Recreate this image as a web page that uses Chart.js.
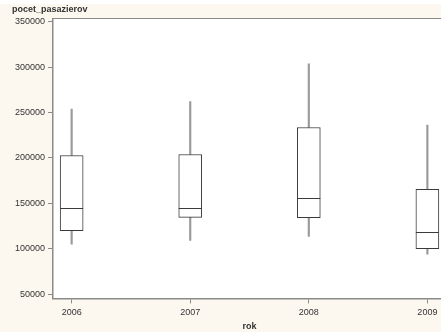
<!DOCTYPE html>
<html>
<head>
<meta charset="utf-8">
<script src="https://cdn.jsdelivr.net/npm/chart.js@4/dist/chart.umd.min.js"></script>
<style>
  html, body { margin: 0; padding: 0; overflow: hidden; background: #fff; }
  #wrap { width: 450px; height: 332px; }
</style>
</head>
<body>
<div id="wrap"><canvas id="myChart" width="450" height="332"></canvas></div>
<script>
// box plot values per year
const years = [2006, 2007, 2008, 2009];
const mins = [105300, 109300, 113700, 94200];
const q1s = [120100, 134600, 134200, 100100];
const medians = [144900, 145000, 156500, 118600];
const q3s = [202700, 203800, 233500, 165400];
const maxs = [253900, 262100, 303600, 236100];
const yTicks = [50000, 100000, 150000, 200000, 250000, 300000, 350000];

const axisGrey = "#8a8a8a";
const textCol = "#333";
const boxLine = "#3a3a3a";
const font = { family: "'Liberation Sans', Arial, sans-serif", size: 9 };
const boldFont = { family: "'Liberation Sans', Arial, sans-serif", size: 9, weight: "bold" };
const boxWidth = 23;

const pairs = (a, b) => years.map((x, i) => ({ x: x, y: [a[i], b[i]] }));

// background: cream around, white plot, top border line, median lines
const framePlugin = {
  id: "frame",
  beforeDraw(chart) {
    const { ctx, chartArea: a, width, height } = chart;
    ctx.save();
    ctx.fillStyle = "#fdf8ef";
    ctx.fillRect(0, 4, width, height - 4);
    ctx.fillStyle = "#fff";
    ctx.fillRect(a.left, a.top, a.right - a.left, a.bottom - a.top);
    ctx.restore();
  },
  afterDatasetsDraw(chart) {
    const { ctx, scales } = chart;
    ctx.save();
    ctx.strokeStyle = boxLine;
    ctx.lineWidth = 1;
    years.forEach((yr, i) => {
      const cx = scales.x.getPixelForValue(yr);
      const py = Math.round(scales.y.getPixelForValue(medians[i])) + 0.5;
      ctx.beginPath();
      ctx.moveTo(cx - boxWidth / 2, py);
      ctx.lineTo(cx + boxWidth / 2, py);
      ctx.stroke();
    });
    ctx.restore();
  },
  afterDraw(chart) {
    const { ctx, chartArea: a } = chart;
    ctx.save();
    ctx.strokeStyle = axisGrey;
    ctx.lineWidth = 1;
    ctx.beginPath();
    ctx.moveTo(a.left, Math.round(a.top) + 0.5);
    ctx.lineTo(a.right, Math.round(a.top) + 0.5);
    ctx.stroke();
    ctx.restore();
  }
};

const whisker = {
  backgroundColor: "#9a9a9a",
  borderWidth: 0,
  barThickness: 1.5,
  grouped: false,
  order: 2
};

new Chart(document.getElementById("myChart"), {
  type: "bar",
  data: {
    datasets: [
      Object.assign({ label: "low", data: pairs(mins, q1s) }, whisker),
      Object.assign({ label: "high", data: pairs(q3s, maxs) }, whisker),
      {
        label: "box",
        data: pairs(q1s, q3s),
        backgroundColor: "#fff",
        borderColor: boxLine,
        borderWidth: 1,
        borderSkipped: false,
        barThickness: boxWidth,
        grouped: false,
        order: 1
      }
    ]
  },
  plugins: [framePlugin],
  options: {
    responsive: false,
    animation: false,
    layout: { padding: { left: 12, right: 4, top: 0, bottom: 0 } },
    plugins: {
      legend: { display: false },
      tooltip: { enabled: false },
      title: {
        display: true,
        text: "pocet_pasazierov",
        align: "start",
        color: textCol,
        font: boldFont,
        padding: { top: 4, bottom: 3.5 }
      }
    },
    scales: {
      x: {
        type: "linear",
        offset: false,
        min: 2005.843,
        max: 2009.157,
        afterBuildTicks: s => { s.ticks = years.map(v => ({ value: v })); },
        ticks: { color: textCol, font: font, padding: 4, maxRotation: 0, callback: v => String(v) },
        grid: { offset: false, drawOnChartArea: false, color: axisGrey, tickLength: 5 },
        border: { color: axisGrey, width: 1.5 },
        title: { display: true, text: "rok", color: textCol, font: boldFont, padding: { top: -1, bottom: 0 } }
      },
      y: {
        min: 45500,
        max: 353700,
        afterBuildTicks: s => { s.ticks = yTicks.map(v => ({ value: v })); },
        ticks: { color: textCol, font: font, padding: 3, callback: v => String(v) },
        grid: { drawOnChartArea: false, color: axisGrey, tickLength: 5 },
        border: { color: axisGrey, width: 1.5 }
      }
    }
  }
});
</script>
</body>
</html>
